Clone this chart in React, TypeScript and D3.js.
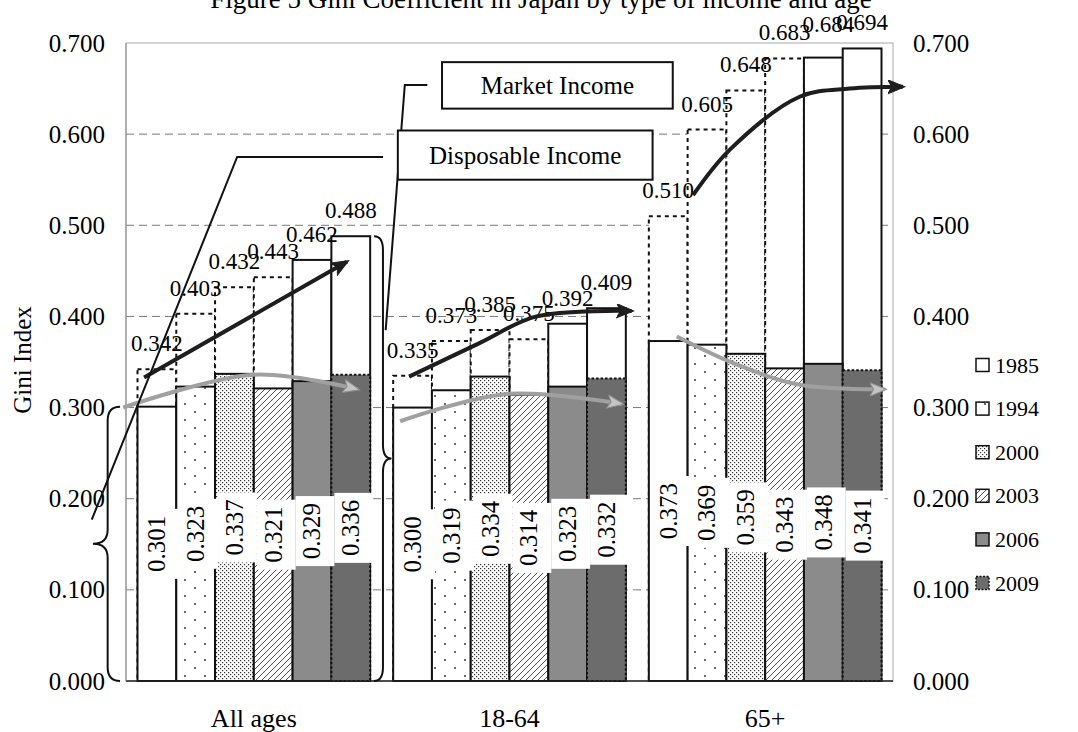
import React from 'react';
import * as d3 from 'd3';

// Gini index by age group, survey year and income type
const groups = ['All ages', '18-64', '65+'];
const years = ['1985', '1994', '2000', '2003', '2006', '2009'];

const marketAllAges = [0.342, 0.403, 0.432, 0.443, 0.462, 0.488];
const market1864 = [0.335, 0.373, 0.385, 0.375, 0.392, 0.409];
const market65 = [0.51, 0.605, 0.648, 0.683, 0.684, 0.694];

const disposableAllAges = [0.301, 0.323, 0.337, 0.321, 0.329, 0.336];
const disposable1864 = [0.3, 0.319, 0.334, 0.314, 0.323, 0.332];
const disposable65 = [0.373, 0.369, 0.359, 0.343, 0.348, 0.341];

const yTicks = [0, 0.1, 0.2, 0.3, 0.4, 0.5, 0.6, 0.7];

const marketByGroup = [marketAllAges, market1864, market65];
const disposableByGroup = [disposableAllAges, disposable1864, disposable65];

// Trend arrows: [slot within the group (in bar widths), Gini value]
const trendMarket: [number, number][][] = [
  [[0.17, 0.333], [5.4, 0.46]],
  [[0.41, 0.334], [2.24, 0.371], [3.7, 0.4], [6.15, 0.406]],
  [[1.14, 0.533], [2.09, 0.583], [3.89, 0.641], [5.18, 0.65], [6.55, 0.652]],
];
const trendDisposable: [number, number][][] = [
  [[-0.37, 0.3], [3.0, 0.336], [5.68, 0.32]],
  [[0.18, 0.285], [2.93, 0.315], [5.9, 0.304]],
  [[0.72, 0.378], [2.17, 0.349], [3.89, 0.325], [6.08, 0.32]],
];

const W = 1078;
const H = 732;
const FONT = '"Liberation Serif", "Times New Roman", serif';

const x = d3.scaleBand<string>().domain(groups).range([126, 893]).paddingInner(0.09).paddingOuter(0.045);
const xi = d3.scaleBand<string>().domain(years).range([0, x.bandwidth()]);
const y = d3.scaleLinear().domain([0, 0.7]).range([681, 43]);
const bw = xi.bandwidth();
const fmt = d3.format('.3f');

const fills: Record<string, string> = {
  '1985': '#ffffff',
  '1994': 'url(#p1994)',
  '2000': 'url(#p2000)',
  '2003': 'url(#p2003)',
  '2006': '#8b8b8b',
  '2009': '#6c6c6c',
};

const slotX = (g: number, s: number) => (x(groups[g]) as number) + s * bw;

const labelNudge: Record<string, [number, number]> = { '65+|2006': [5, -8] };

function brace(cx: number, bx: number, ex: number, top: number, bot: number) {
  const mid = (top + bot) / 2;
  const r = 14;
  return `M${ex},${top} Q${bx},${top} ${bx},${top + r} L${bx},${mid - r} Q${bx},${mid} ${cx},${mid} Q${bx},${mid} ${bx},${mid + r} L${bx},${bot - r} Q${bx},${bot} ${ex},${bot}`;
}

export default function App() {
  const lineGen = d3
    .line<[number, number]>()
    .x((d) => d[0])
    .y((d) => d[1])
    .curve(d3.curveCatmullRom.alpha(0.5));

  const arrowPath = (g: number, pts: [number, number][]) =>
    lineGen(pts.map(([s, v]) => [slotX(g, s), y(v)] as [number, number])) || '';

  const legendY = (i: number) => 365 + i * 43.6;

  return (
    <svg width={W} height={H} style={{ position: 'absolute', left: 0, top: 0, fontFamily: FONT }}>
      <defs>
        <pattern id="p1994" width="20" height="16" patternUnits="userSpaceOnUse">
          <rect width="20" height="16" fill="#fff" />
          <circle cx="5" cy="4" r="0.9" fill="#222" />
          <circle cx="15" cy="12" r="0.9" fill="#222" />
        </pattern>
        <pattern id="p2000" width="4" height="4" patternUnits="userSpaceOnUse">
          <rect width="4" height="4" fill="#fff" />
          <rect x="0" y="0" width="1.2" height="1.2" fill="#333" />
          <rect x="2" y="2" width="1.2" height="1.2" fill="#333" />
        </pattern>
        <pattern id="p2003" width="6" height="6" patternUnits="userSpaceOnUse">
          <rect width="6" height="6" fill="#fff" />
          <path d="M0,6 L6,0 M-1,1 L1,-1 M5,7 L7,5" stroke="#222" strokeWidth="0.8" />
        </pattern>
        <marker id="headDark" markerUnits="userSpaceOnUse" markerWidth="20" markerHeight="16" refX="15" refY="7" orient="auto">
          <path d="M0,0 L17,7 L0,14 L4,7 Z" fill="#1e1e1e" stroke="#1e1e1e" strokeWidth="1" />
        </marker>
        <marker id="headGray" markerUnits="userSpaceOnUse" markerWidth="20" markerHeight="16" refX="15" refY="7" orient="auto">
          <path d="M0,0 L17,7 L0,14 L4,7 Z" fill="#c4c4c4" stroke="#8c8c8c" strokeWidth="1" />
        </marker>
      </defs>

      {/* title */}
      <text x={541} y={8} textAnchor="middle" fontSize={27}>
        Figure 5  Gini Coefficient in Japan by type of income and age
      </text>

      {/* gridlines */}
      {yTicks.slice(1, -1).map((t) => (
        <line key={t} x1={126} x2={893} y1={y(t)} y2={y(t)} stroke="#7a7a7a" strokeWidth={1} strokeDasharray="8,5" />
      ))}
      <rect x={126} y={y(0.7)} width={893 - 126} height={y(0) - y(0.7)} fill="none" stroke="#a8a8a8" strokeWidth={1} />

      {/* market income bars (behind) */}
      {groups.map((g, gi) =>
        years.map((yr, i) => {
          const v = marketByGroup[gi][i];
          const bx = slotX(gi, i);
          const dashed = i < 4;
          return (
            <rect
              key={`m-${g}-${yr}`}
              x={bx}
              y={y(v)}
              width={bw}
              height={y(0) - y(v)}
              fill="#fff"
              stroke="#111"
              strokeWidth={2}
              strokeDasharray={dashed ? '4,4' : undefined}
            />
          );
        })
      )}

      {/* disposable income bars */}
      {groups.map((g, gi) =>
        years.map((yr, i) => {
          const v = disposableByGroup[gi][i];
          const bx = slotX(gi, i);
          return (
            <rect
              key={`d-${g}-${yr}`}
              x={bx}
              y={y(v)}
              width={bw}
              height={y(0) - y(v)}
              fill={fills[yr]}
              stroke="#111"
              strokeWidth={2}
              strokeDasharray={yr === '2009' ? '2.5,2' : undefined}
            />
          );
        })
      )}

      {/* disposable income value labels */}
      {groups.map((g, gi) =>
        years.map((yr, i) => {
          const v = disposableByGroup[gi][i];
          const cx = slotX(gi, i) + bw / 2;
          const cy = y(v / 2);
          return (
            <g key={`dl-${g}-${yr}`}>
              <rect x={slotX(gi, i) + 3} y={cy - 35} width={bw} height={70} fill="#fff" />
              <text
                x={cx}
                y={cy}
                transform={`rotate(-90 ${cx} ${cy})`}
                textAnchor="middle"
                dominantBaseline="central"
                fontSize={25}
              >
                {fmt(v)}
              </text>
            </g>
          );
        })
      )}

      {/* market income value labels */}
      {groups.map((g, gi) =>
        years.map((yr, i) => {
          const v = marketByGroup[gi][i];
          const [dx, dy] = labelNudge[`${g}|${yr}`] || [0, 0];
          return (
            <text
              key={`ml-${g}-${yr}`}
              x={slotX(gi, i) + bw / 2 + dx}
              y={y(v) - 18 + dy}
              textAnchor="middle"
              fontSize={23}
            >
              {fmt(v)}
            </text>
          );
        })
      )}

      {/* axes */}
      <line x1={126} x2={893} y1={y(0)} y2={y(0)} stroke="#222" strokeWidth={1.5} />
      <line x1={126} x2={126} y1={y(0)} y2={y(0.7)} stroke="#888" strokeWidth={1} />
      {yTicks.map((t) => (
        <g key={`t-${t}`} fontSize={25}>
          <text x={105} y={y(t)} textAnchor="end" dominantBaseline="central">
            {fmt(t)}
          </text>
          <text x={913} y={y(t)} textAnchor="start" dominantBaseline="central">
            {fmt(t)}
          </text>
        </g>
      ))}
      {groups.map((g) => (
        <text key={`g-${g}`} x={(x(g) as number) + x.bandwidth() / 2} y={727} textAnchor="middle" fontSize={26}>
          {g}
        </text>
      ))}
      <text x={22} y={360} transform="rotate(-90 22 360)" textAnchor="middle" dominantBaseline="central" fontSize={25}>
        Gini Index
      </text>

      {/* trend arrows */}
      {trendDisposable.map((pts, gi) => (
        <path key={`ad-${gi}`} d={arrowPath(gi, pts)} fill="none" stroke="#a0a0a0" strokeWidth={4} markerEnd="url(#headGray)" />
      ))}
      {trendMarket.map((pts, gi) => (
        <path key={`am-${gi}`} d={arrowPath(gi, pts)} fill="none" stroke="#1e1e1e" strokeWidth={4} markerEnd="url(#headDark)" />
      ))}

      {/* callouts */}
      <path
        d={brace(slotX(0, -1.15), slotX(0, -0.77), slotX(0, -0.45), y(disposableAllAges[0]), y(0))}
        fill="none"
        stroke="#111"
        strokeWidth={2}
      />
      <path
        d={brace(slotX(0, 6.55), slotX(0, 6.33), slotX(0, 6.1), y(marketAllAges[5]), y(0))}
        fill="none"
        stroke="#111"
        strokeWidth={2}
      />
      <polyline
        points={`${slotX(1, -0.26)},${y(0.575)} ${slotX(0, 2.57)},${y(0.575)} ${slotX(0, -1.18)},${y(0.177)}`}
        fill="none"
        stroke="#111"
        strokeWidth={2}
      />
      <polyline
        points={`${slotX(1, 0.88)},${y(0.654)} ${slotX(1, 0.3)},${y(0.654)} ${slotX(0, 6.4)},${y(0.385)}`}
        fill="none"
        stroke="#111"
        strokeWidth={2}
      />
      <g>
        <rect x={slotX(1, 1.26)} y={y(0.679)} width={slotX(1, 7.21) - slotX(1, 1.26)} height={y(0.628) - y(0.679)} fill="#fff" stroke="#111" strokeWidth={2} />
        <text x={(slotX(1, 1.26) + slotX(1, 7.21)) / 2} y={(y(0.679) + y(0.628)) / 2} textAnchor="middle" dominantBaseline="central" fontSize={25}>
          Market Income
        </text>
        <rect x={slotX(1, 0.12)} y={y(0.604)} width={slotX(1, 6.69) - slotX(1, 0.12)} height={y(0.55) - y(0.604)} fill="#fff" stroke="#111" strokeWidth={2} />
        <text x={(slotX(1, 0.12) + slotX(1, 6.69)) / 2} y={(y(0.604) + y(0.55)) / 2} textAnchor="middle" dominantBaseline="central" fontSize={25}>
          Disposable Income
        </text>
      </g>

      {/* legend */}
      {years.map((yr, i) => (
        <g key={`lg-${yr}`}>
          <rect
            x={976}
            y={legendY(i) - 6.5}
            width={13}
            height={13}
            fill={fills[yr]}
            stroke="#111"
            strokeWidth={1.5}
            strokeDasharray={yr === '2009' ? '2,1.5' : undefined}
          />
          <text x={995} y={legendY(i)} dominantBaseline="central" fontSize={22}>
            {yr}
          </text>
        </g>
      ))}
    </svg>
  );
}
